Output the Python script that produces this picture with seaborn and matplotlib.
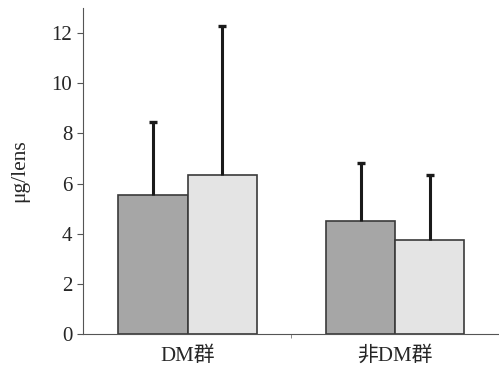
import seaborn as sns
import matplotlib.pyplot as plt
import pandas as pd

groups = ["DM群", "DM群", "非DM群", "非DM群"]
series = ["A", "B", "A", "B"]
means = [5.53, 6.36, 4.49, 3.73]
upper = [8.47, 12.29, 6.83, 6.35]

df = pd.DataFrame({"group": groups, "series": series, "value": means})

sns.set_style("ticks")
plt.rcParams["font.family"] = ["Liberation Serif", "Noto Sans CJK JP"]

fig = plt.figure(figsize=(4.99, 3.69), dpi=100)
ax = fig.add_axes([0.166, 0.095, 0.834, 0.883])

sns.barplot(data=df, x="group", y="value", hue="series",
            palette=["#a6a6a6", "#e4e4e4"], width=0.667, errorbar=None,
            edgecolor="#3a3a3a", linewidth=1.2, saturation=1, ax=ax)
if ax.get_legend():
    ax.get_legend().remove()

# upper-only error bars at the drawn bar centers
bars = sorted(ax.patches[:4], key=lambda p: p.get_x())
for p, m, u in zip(bars, means, upper):
    cx = p.get_x() + p.get_width() / 2
    _, caps, _ = ax.errorbar(cx, m, yerr=[[0], [u - m]], fmt="none",
                             ecolor="#1a1a1a", elinewidth=2.2,
                             capsize=3.2, capthick=2.4)
    caps[0].set_visible(False)

ax.set_ylim(0, 13)
ax.set_xlim(-0.505, 1.5)
ax.set_yticks([0, 2, 4, 6, 8, 10, 12])
ax.set_xticks([0.5], minor=True)
ax.set_xlabel("")
ax.set_ylabel("μg/lens", fontsize=15.5, labelpad=16)
ax.tick_params(axis="y", labelsize=15, length=4, color="#555")
ax.tick_params(axis="x", which="major", labelsize=15, length=0, pad=9)
ax.tick_params(axis="x", which="minor", length=3, width=0.6, color="#777")
sns.despine(ax=ax)
ax.spines["left"].set_color("#555")
ax.spines["bottom"].set_color("#555")

fig.savefig("out.png", dpi=100)
